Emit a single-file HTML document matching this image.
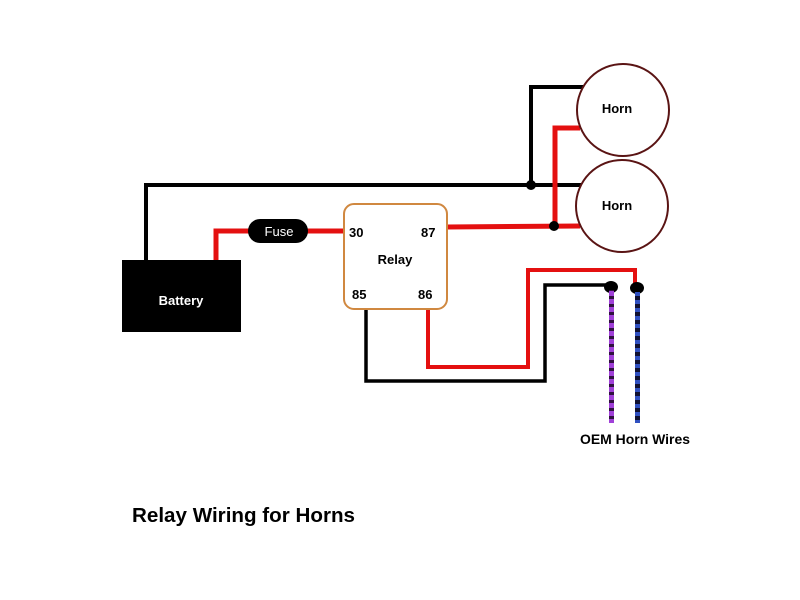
<!DOCTYPE html>
<html><head><meta charset="utf-8"><style>
html,body{margin:0;padding:0;background:#fff;width:800px;height:600px;overflow:hidden}
text{font-family:"Liberation Sans",sans-serif;font-weight:bold}
</style></head><body>
<svg width="800" height="600" viewBox="0 0 800 600" xmlns="http://www.w3.org/2000/svg">
<defs>
<pattern id="pur" width="4" height="8" patternUnits="userSpaceOnUse"><rect width="4" height="8" fill="#a040d8"/><rect y="0" width="4" height="3" fill="#301040"/></pattern>
<pattern id="blu" width="4" height="8" patternUnits="userSpaceOnUse"><rect width="4" height="8" fill="#3050c0"/><rect y="0" width="4" height="4" fill="#101030"/></pattern>
</defs>
<polyline points="146,262 146,185 582,185" fill="none" stroke="#000" stroke-width="4"/>
<polyline points="531,185 531,87 585,87" fill="none" stroke="#000" stroke-width="4"/>
<polyline points="366,309 366,381 545,381 545,285 611,285" fill="none" stroke="#000" stroke-width="3.5"/>
<polyline points="216,262 216,231 250,231" fill="none" stroke="#e41010" stroke-width="5"/>
<line x1="305" y1="231" x2="345" y2="231" stroke="#e41010" stroke-width="5"/>
<line x1="447" y1="227" x2="580" y2="226" stroke="#e41010" stroke-width="5"/>
<polyline points="555,226 555,128 580,128" fill="none" stroke="#e41010" stroke-width="5"/>
<polyline points="428,309 428,367 528,367 528,270 635,270 635,286" fill="none" stroke="#e41010" stroke-width="4"/>
<circle cx="531" cy="185" r="5" fill="#000"/>
<circle cx="554" cy="226" r="5" fill="#000"/>
<ellipse cx="611" cy="287" rx="7" ry="6" fill="#000"/>
<ellipse cx="637" cy="288" rx="7" ry="6" fill="#000"/>
<rect x="609" y="290" width="5" height="133" fill="url(#pur)"/>
<rect x="635" y="292" width="5" height="131" fill="url(#blu)"/>
<circle cx="623" cy="110" r="46" fill="#fff" stroke="#5a1414" stroke-width="2"/>
<text x="617" y="113" font-size="13" text-anchor="middle">Horn</text>
<circle cx="622" cy="206" r="46" fill="#fff" stroke="#5a1414" stroke-width="2"/>
<text x="617" y="210" font-size="13" text-anchor="middle">Horn</text>
<rect x="122" y="260" width="119" height="72" fill="#000"/>
<text x="181" y="305" font-size="13" fill="#fff" text-anchor="middle">Battery</text>
<rect x="248" y="219" width="60" height="24" rx="12" fill="#000"/>
<text x="279" y="236" font-size="13" fill="#fff" style="font-weight:normal" text-anchor="middle">Fuse</text>
<rect x="344" y="204" width="103" height="105" rx="10" fill="#fff" stroke="#d08840" stroke-width="2"/>
<text x="349" y="237" font-size="13">30</text>
<text x="421" y="237" font-size="13">87</text>
<text x="395" y="264" font-size="13" text-anchor="middle">Relay</text>
<text x="352" y="299" font-size="13">85</text>
<text x="418" y="299" font-size="13">86</text>
<text x="580" y="444" font-size="14" textLength="110" lengthAdjust="spacingAndGlyphs">OEM Horn Wires</text>
<text x="132" y="522" font-size="20" textLength="223" lengthAdjust="spacingAndGlyphs">Relay Wiring for Horns</text>
</svg>
</body></html>
